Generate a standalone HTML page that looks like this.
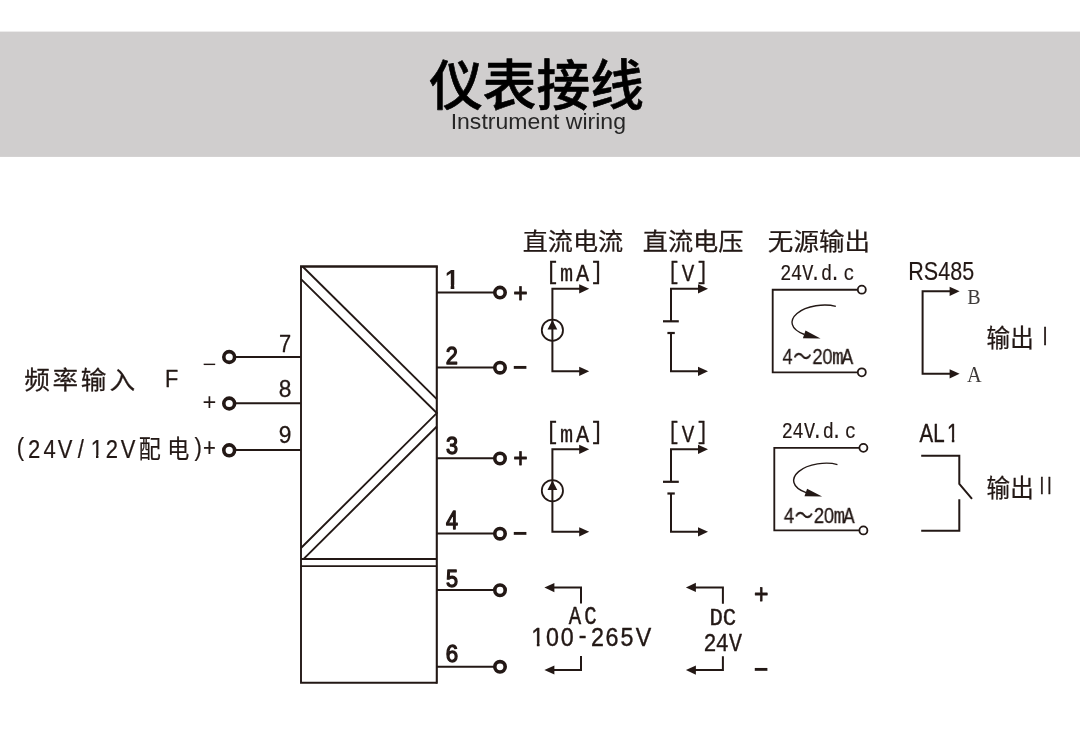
<!DOCTYPE html>
<html lang="zh-CN">
<head>
<meta charset="utf-8">
<title>仪表接线 Instrument wiring</title>
<style>
html,body{margin:0;padding:0;background:#fff;}
body{width:1080px;height:735px;overflow:hidden;position:relative;font-family:"Liberation Sans","Noto Sans CJK SC",sans-serif;}
svg{position:absolute;left:0;top:0;will-change:transform;}
text{white-space:pre;}
</style>
</head>
<body>
<svg width="1080" height="735" viewBox="0 0 1080 735" role="img" aria-label="仪表接线 Instrument wiring">
<defs><clipPath id="c1"><path clip-rule="evenodd" d="M0 0H1080V735H0ZM946.74 438.25H951.86V443.7H946.74ZM954.3 438.25H959.16V443.7H954.3Z"/></clipPath><clipPath id="c2"><path clip-rule="evenodd" d="M0 0H1080V735H0ZM531.18 642.7H536.86V648.1H531.18ZM539.5 642.7H544.89V648.1H539.5Z"/></clipPath><clipPath id="c3"><path clip-rule="evenodd" d="M0 0H1080V735H0ZM90.51 455H96.03V460.3H90.51ZM98.4 455H103.63V460.3H98.4Z"/></clipPath><clipPath id="c4"><path clip-rule="evenodd" d="M0 0H1080V735H0ZM444.69 284.78H450.66V290.9H444.69ZM454.3 284.78H459.95V290.9H454.3Z"/></clipPath></defs>
<rect x="0" y="31.6" width="1080" height="125.3" fill="#d0cece"/>
<g fill="none" stroke="#231815" stroke-width="1.9" stroke-linecap="butt" stroke-linejoin="miter">
<path d="M301.0 266.5 V682.7 H436.8"/>
<path d="M436.8 266.5 V683.65" stroke-width="2.1"/>
<path d="M300.05 266.5 H437.85" stroke-width="2.5"/>
<path d="M302.6 266.5 L436.8 399.1"/>
<path d="M301.0 279.1 L436.8 413.1 L301.0 548.0"/>
<path d="M436.8 426.5 L303.7 558.9"/>
<path d="M301.0 559.0 H436.8"/>
<path d="M301.0 566.1 H436.8"/>
<path d="M436.8 292.5 H494.5" stroke-width="2.0"/>
<path d="M436.8 367.6 H494.5" stroke-width="2.0"/>
<path d="M436.8 458.3 H494.5" stroke-width="2.0"/>
<path d="M436.8 533.5 H494.5" stroke-width="2.0"/>
<path d="M436.8 590.05 H494.5" stroke-width="2.0"/>
<path d="M436.8 666.8 H494.5" stroke-width="2.0"/>
<path d="M235 357.0 H301.0"/>
<path d="M235 403.3 H301.0"/>
<path d="M235 450.0 H301.0"/>
</g>
<g fill="#fff" stroke="#231815" stroke-width="3.6">
<circle cx="500" cy="292.6" r="5.2"/>
<circle cx="500" cy="367.7" r="5.2"/>
<circle cx="500" cy="458.5" r="5.2"/>
<circle cx="500" cy="533.7" r="5.2"/>
<circle cx="500" cy="590.25" r="5.2"/>
<circle cx="500" cy="666.8" r="5.2"/>
<circle cx="229.2" cy="357.0" r="5.4"/>
<circle cx="229.2" cy="403.5" r="5.4"/>
<circle cx="229.2" cy="450.3" r="5.4"/>
</g>
<g fill="none" stroke="#231815" stroke-width="2.0" transform="translate(0 0)">
<path d="M581 288.8 H552.4 V371.3 H581"/>
<circle cx="552.4" cy="330.2" r="10.6" stroke-width="1.8"/>
<path d="M700 288.8 H671 V321.3"/>
<path d="M663 321.3 H678.8" stroke-width="2.2"/>
<path d="M667.4 333 H674.8" stroke-width="2.2"/>
<path d="M671 333 V371.3 H700"/>
</g>
<g transform="translate(0 0)">
<path d="M589.2 288.8 L579.2 284.2 L579.2 293.4 Z" fill="#231815"/>
<path d="M589.2 371.3 L579.2 366.7 L579.2 375.9 Z" fill="#231815"/>
<path d="M708 288.8 L698 284.2 L698 293.4 Z" fill="#231815"/>
<path d="M708 371.3 L698 366.7 L698 375.9 Z" fill="#231815"/>
<path d="M552.4 319.9 L557.3 329.5 L547.5 329.5 Z" fill="#231815"/>
</g>
<g fill="none" stroke="#231815" stroke-width="2.0" transform="translate(0 160.5)">
<path d="M581 288.8 H552.4 V371.3 H581"/>
<circle cx="552.4" cy="330.2" r="10.6" stroke-width="1.8"/>
<path d="M700 288.8 H671 V321.3"/>
<path d="M663 321.3 H678.8" stroke-width="2.2"/>
<path d="M667.4 333 H674.8" stroke-width="2.2"/>
<path d="M671 333 V371.3 H700"/>
</g>
<g transform="translate(0 160.5)">
<path d="M589.2 288.8 L579.2 284.2 L579.2 293.4 Z" fill="#231815"/>
<path d="M589.2 371.3 L579.2 366.7 L579.2 375.9 Z" fill="#231815"/>
<path d="M708 288.8 L698 284.2 L698 293.4 Z" fill="#231815"/>
<path d="M708 371.3 L698 366.7 L698 375.9 Z" fill="#231815"/>
<path d="M552.4 319.9 L557.3 329.5 L547.5 329.5 Z" fill="#231815"/>
</g>
<g transform="translate(0 0)">
<path d="M857.5 289.7 H772.7 V372.3 H857.5" fill="none" stroke="#231815" stroke-width="1.85"/>
<circle cx="861.8" cy="289.7" r="4.0" fill="#fff" stroke="#231815" stroke-width="1.8"/>
<circle cx="861.8" cy="372.3" r="4.0" fill="#fff" stroke="#231815" stroke-width="1.8"/>
<path d="M835.85 306.4 C825 303.4 806.5 305.3 797 313.5 C789.5 320 789.5 329 804.5 334.5" fill="none" stroke="#231815" stroke-width="1.4"/>
<path d="M805.5 330.6 L820.5 338.4 L802.9 338.2 Z" fill="#231815"/>
</g>
<g transform="translate(1.6 158.15)">
<path d="M857.5 289.7 H772.7 V372.3 H857.5" fill="none" stroke="#231815" stroke-width="1.85"/>
<circle cx="861.8" cy="289.7" r="4.0" fill="#fff" stroke="#231815" stroke-width="1.8"/>
<circle cx="861.8" cy="372.3" r="4.0" fill="#fff" stroke="#231815" stroke-width="1.8"/>
<path d="M835.85 306.4 C825 303.4 806.5 305.3 797 313.5 C789.5 320 789.5 329 804.5 334.5" fill="none" stroke="#231815" stroke-width="1.4"/>
<path d="M805.5 330.6 L820.5 338.4 L802.9 338.2 Z" fill="#231815"/>
</g>
<path d="M951 291.3 H922.6 V373.8 H951" fill="none" stroke="#231815" stroke-width="2.0"/>
<path d="M959.6 291.3 L949.6 286.7 L949.6 295.9 Z" fill="#231815"/>
<path d="M959.6 373.8 L949.6 369.2 L949.6 378.4 Z" fill="#231815"/>
<g fill="none" stroke="#231815" stroke-width="2.0">
<path d="M921.2 455.8 H959.3 V483.8 L972 498.8"/>
<path d="M959.3 499.2 V530.8 H921.2"/>
</g>
<g fill="none" stroke="#231815" stroke-width="2.0">
<path d="M552 587.6 H581.0 V603.6"/>
<path d="M552 670.0 H581.0 V656"/>
<path d="M693 587.4 H722.9 V603.8"/>
<path d="M693 670.1 H722.9 V656.2"/>
</g>
<path d="M544.4 587.6 L554.4 583 L554.4 592.2 Z" fill="#231815"/>
<path d="M544.4 670 L554.4 665.4 L554.4 674.6 Z" fill="#231815"/>
<path d="M685.9 587.4 L695.9 582.8 L695.9 592 Z" fill="#231815"/>
<path d="M685.9 670.1 L695.9 665.5 L695.9 674.7 Z" fill="#231815"/>
<text transform="translate(429.16 105.28) scale(0.9871 1)" font-family='"Liberation Sans","Noto Sans CJK SC",sans-serif' font-size="54.37" font-weight="500" fill="#000" stroke="#000" stroke-width="0.6" stroke-linejoin="round">仪表接线</text>
<text transform="translate(450.67 129.26) scale(1.0086 1)" font-family='"Liberation Sans","Noto Sans CJK SC",sans-serif' font-size="22.84" fill="#262626">Instrument wiring</text>
<text transform="translate(522.74 250.09) scale(1.0571 1)" font-family='"Liberation Sans","Noto Sans CJK SC",sans-serif' font-size="23.77" fill="#231815" stroke="#231815" stroke-width="0.25" stroke-linejoin="round">直流电流</text>
<text transform="translate(642.74 249.98) scale(1.0656 1)" font-family='"Liberation Sans","Noto Sans CJK SC",sans-serif' font-size="23.64" fill="#231815" stroke="#231815" stroke-width="0.25" stroke-linejoin="round">直流电压</text>
<text transform="translate(767.85 249.99) scale(1.0837 1)" font-family='"Liberation Sans","Noto Sans CJK SC",sans-serif' font-size="23.58" fill="#231815" stroke="#231815" stroke-width="0.25" stroke-linejoin="round">无源输出</text>
<text transform="translate(908.30 279.57) scale(0.8535 1)" font-family='"Liberation Sans","Noto Sans CJK SC",sans-serif' font-size="25.23" fill="#231815" stroke="#231815" stroke-width="0.15" stroke-linejoin="round">RS485</text>
<text transform="translate(967.20 303.75) scale(0.9570 1)" font-family='"Liberation Serif","Noto Serif CJK SC",serif' font-size="20.99" fill="#3e3a39">B</text>
<text transform="translate(967.10 381.50) scale(0.9107 1)" font-family='"Liberation Serif","Noto Serif CJK SC",serif' font-size="22.27" fill="#3e3a39">A</text>
<text transform="translate(986.62 347.38) scale(0.9451 1)" font-family='"Liberation Sans","Noto Sans CJK SC",sans-serif' font-size="24.93" fill="#231815" stroke="#231815" stroke-width="0.25" stroke-linejoin="round">输出</text>
<text transform="translate(1042.45 345.35) scale(0.7346 1)" font-family='"Liberation Sans","Noto Sans CJK SC",sans-serif' font-size="25.02" fill="#231815" stroke="#231815" stroke-width="0.3" stroke-linejoin="round">I</text>
<text transform="translate(986.62 496.59) scale(0.9250 1)" font-family='"Liberation Sans","Noto Sans CJK SC",sans-serif' font-size="25.47" fill="#231815" stroke="#231815" stroke-width="0.25" stroke-linejoin="round">输出</text>
<text transform="translate(1039.57 494.35) scale(0.7046 1)" font-family='"Liberation Sans","Noto Sans CJK SC",sans-serif' font-size="24.29" letter-spacing="3.64" fill="#231815" stroke="#231815" stroke-width="0.3" stroke-linejoin="round">II</text>
<text transform="translate(513.16 301.59) scale(0.9048 1)" font-family='"Liberation Sans","Noto Sans CJK SC",sans-serif' font-size="27.35" fill="#231815" stroke="#231815" stroke-width="0.8" stroke-linejoin="round">+</text>
<text transform="translate(513.16 467.29) scale(0.9048 1)" font-family='"Liberation Sans","Noto Sans CJK SC",sans-serif' font-size="27.35" fill="#231815" stroke="#231815" stroke-width="0.8" stroke-linejoin="round">+</text>
<text transform="translate(754.06 603.39) scale(0.9048 1)" font-family='"Liberation Sans","Noto Sans CJK SC",sans-serif' font-size="27.35" fill="#231815" stroke="#231815" stroke-width="0.8" stroke-linejoin="round">+</text>
<text transform="translate(512.63 376.27) scale(0.9559 1)" font-family='"Liberation Sans","Noto Sans CJK SC",sans-serif' font-size="26.36" font-weight="700" fill="#231815">−</text>
<text transform="translate(512.63 542.07) scale(0.9559 1)" font-family='"Liberation Sans","Noto Sans CJK SC",sans-serif' font-size="26.36" font-weight="700" fill="#231815">−</text>
<text transform="translate(753.63 677.87) scale(0.9559 1)" font-family='"Liberation Sans","Noto Sans CJK SC",sans-serif' font-size="26.36" font-weight="700" fill="#231815">−</text>
<text transform="translate(445.86 364.05) scale(0.8875 1)" font-family='"Liberation Sans","Noto Sans CJK SC",sans-serif' font-size="24.52" fill="#231815" stroke="#231815" stroke-width="1.3" stroke-linejoin="round">2</text>
<text transform="translate(445.94 454.10) scale(0.8817 1)" font-family='"Liberation Sans","Noto Sans CJK SC",sans-serif' font-size="24.59" fill="#231815" stroke="#231815" stroke-width="1.3" stroke-linejoin="round">3</text>
<text transform="translate(445.96 529.35) scale(0.8431 1)" font-family='"Liberation Sans","Noto Sans CJK SC",sans-serif' font-size="25.60" fill="#231815" stroke="#231815" stroke-width="1.3" stroke-linejoin="round">4</text>
<text transform="translate(445.88 586.60) scale(0.8793 1)" font-family='"Liberation Sans","Noto Sans CJK SC",sans-serif' font-size="24.66" fill="#231815" stroke="#231815" stroke-width="1.3" stroke-linejoin="round">5</text>
<text transform="translate(445.64 661.71) scale(0.9161 1)" font-family='"Liberation Sans","Noto Sans CJK SC",sans-serif' font-size="24.31" fill="#231815" stroke="#231815" stroke-width="1.3" stroke-linejoin="round">6</text>
<text transform="translate(279.00 352.45) scale(0.8848 1)" font-family='"Liberation Sans","Noto Sans CJK SC",sans-serif' font-size="24.73" fill="#231815" stroke="#231815" stroke-width="0.3" stroke-linejoin="round">7</text>
<text transform="translate(278.68 397.21) scale(0.9645 1)" font-family='"Liberation Sans","Noto Sans CJK SC",sans-serif' font-size="23.60" fill="#231815" stroke="#231815" stroke-width="0.3" stroke-linejoin="round">8</text>
<text transform="translate(278.77 443.01) scale(0.9448 1)" font-family='"Liberation Sans","Noto Sans CJK SC",sans-serif' font-size="24.03" fill="#231815" stroke="#231815" stroke-width="0.3" stroke-linejoin="round">9</text>
<text transform="translate(165.06 387.45) scale(0.8951 1)" font-family='"Liberation Sans","Noto Sans CJK SC",sans-serif' font-size="24.29" fill="#231815" stroke="#231815" stroke-width="0.3" stroke-linejoin="round">F</text>
<text transform="translate(202.51 371.25) scale(1.1856 1)" font-family='"Liberation Sans","Noto Sans CJK SC",sans-serif' font-size="20.00" fill="#231815">−</text>
<text transform="translate(202.51 410.45) scale(1.0103 1)" font-family='"Liberation Sans","Noto Sans CJK SC",sans-serif' font-size="23.47" fill="#231815">+</text>
<text transform="scale(0.9200 1)" x="593.31 608.81 626.18 641.6" y="278.6 281.5 281.5 278.6" font-family='"Liberation Mono","Noto Sans CJK SC",monospace' font-size="23.8" fill="#231815" stroke="#231815" stroke-width="0.3" stroke-linejoin="round">[mA]</text>
<text transform="scale(0.8800 1)" x="758.65 774.62 790.99" y="278.6 281.5 278.6" font-family='"Liberation Mono","Noto Sans CJK SC",monospace' font-size="23.8" fill="#231815" stroke="#231815" stroke-width="0.3" stroke-linejoin="round">[V]</text>
<text transform="scale(0.9200 1)" x="593.31 608.81 626.18 641.6" y="438.8 441.7 441.7 438.8" font-family='"Liberation Mono","Noto Sans CJK SC",monospace' font-size="23.8" fill="#231815" stroke="#231815" stroke-width="0.3" stroke-linejoin="round">[mA]</text>
<text transform="scale(0.8800 1)" x="758.65 774.62 790.99" y="438.8 441.7 438.8" font-family='"Liberation Mono","Noto Sans CJK SC",monospace' font-size="23.8" fill="#231815" stroke="#231815" stroke-width="0.3" stroke-linejoin="round">[V]</text>
<text transform="scale(0.8400 1)" x="928.91 941.55 955.19 964.41 977.49 987.45 1004.19" y="279.6" font-family='"Liberation Mono","Noto Sans CJK SC",monospace' font-size="22" fill="#231815" stroke="#231815" stroke-width="0.2" stroke-linejoin="round">24V.d.c</text>
<text transform="scale(0.8400 1)" x="930.81 943.46 957.09 966.32 979.39 989.35 1006.1" y="437.6" font-family='"Liberation Mono","Noto Sans CJK SC",monospace' font-size="22" fill="#231815" stroke="#231815" stroke-width="0.2" stroke-linejoin="round">24V.d.c</text>
<text transform="scale(0.8500 1)" x="920.53 933.32 955.71 967.51 979.05 990.32" y="364.5" font-family='"Liberation Sans","Noto Sans CJK SC",sans-serif' font-size="21.6" fill="#231815" stroke="#231815" stroke-width="0.3" stroke-linejoin="round">4～20<tspan font-family='"Liberation Mono","Noto Sans CJK SC",monospace' font-size="22.46">mA</tspan></text>
<text transform="scale(0.8500 1)" x="922.3 935.08 957.48 969.27 980.82 992.08" y="522.6" font-family='"Liberation Sans","Noto Sans CJK SC",sans-serif' font-size="21.6" fill="#231815" stroke="#231815" stroke-width="0.3" stroke-linejoin="round">4～20<tspan font-family='"Liberation Mono","Noto Sans CJK SC",monospace' font-size="22.46">mA</tspan></text>
<g clip-path="url(#c1)"><text transform="scale(0.8000 1)" x="1149.39 1166.63 1183.76" y="441.7" font-family='"Liberation Sans","Noto Sans CJK SC",sans-serif' font-size="25.6" fill="#231815" stroke="#231815" stroke-width="0.45" stroke-linejoin="round">AL1</text></g>
<text transform="scale(0.8000 1)" x="710.98 730.35" y="623.6" font-family='"Liberation Mono","Noto Sans CJK SC",monospace' font-size="25.9" fill="#231815" stroke="#231815" stroke-width="0.45" stroke-linejoin="round">AC</text>
<g clip-path="url(#c2)"><text transform="scale(0.9200 1)" x="577.48 593.49 609.44 628.95 642.44 658.29 674.37 690.96" y="646.1 646.1 646.1 643.9 646.1 646.1 646.1 646.1" font-family='"Liberation Sans","Noto Sans CJK SC",sans-serif' font-size="25.3" fill="#231815" stroke="#231815" stroke-width="0.4" stroke-linejoin="round">100-265V</text></g>
<text transform="scale(0.9000 1)" x="788.41 803.13" y="625.2" font-family='"Liberation Mono","Noto Sans CJK SC",monospace' font-size="24.8" fill="#231815" stroke="#231815" stroke-width="0.45" stroke-linejoin="round">DC</text>
<text transform="scale(0.8600 1)" x="818.08 832.15 847.61" y="651.4" font-family='"Liberation Mono","Noto Sans CJK SC",monospace' font-size="25.2" fill="#231815" stroke="#231815" stroke-width="0.35" stroke-linejoin="round">24V</text>
<g clip-path="url(#c3)"><text transform="scale(0.8800 1)" x="18.91 31.7 49.32 65.63 88.41 103.06 120.28 137.17 157.76 189.99 220.96 230.7" y="456 458.3 458.3 458.3 458.3 458.3 458.3 458.3 457.9 457.9 456 455.9" font-family='"Liberation Sans","Noto Sans CJK SC",sans-serif' font-size="25" fill="#231815" stroke="#231815" stroke-width="0.25" stroke-linejoin="round">(24V/12V配电)+</text></g>
<g clip-path="url(#c4)"><text transform="scale(0.9300 1)" x="478.43" y="288.9" font-family='"Liberation Sans","Noto Sans CJK SC",sans-serif' font-size="26.9" font-weight="700" fill="#231815">1</text></g>
<text transform="scale(1.0400 1)" x="23.27 50.55 77.62 105.39" y="389.14" font-family='"Liberation Sans","Noto Sans CJK SC",sans-serif' font-size="24.68" fill="#231815" stroke="#231815" stroke-width="0.25" stroke-linejoin="round">频率输入</text>
</svg>
</body>
</html>
